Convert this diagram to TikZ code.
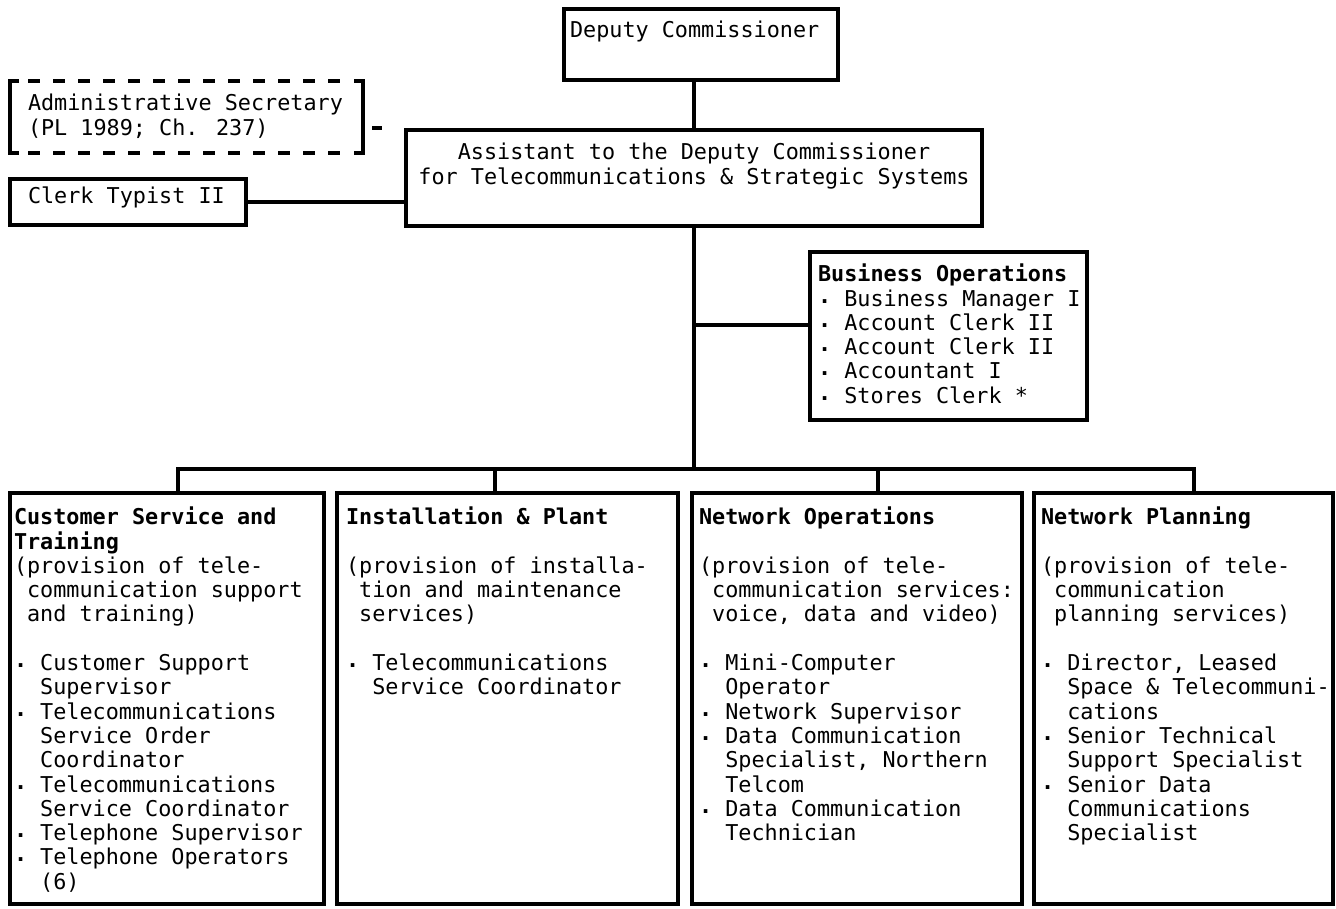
\documentclass[tikz,border=0pt]{standalone}
\usepackage{fontspec}
\setmainfont{DejaVu Sans Mono}
% strut fixing the top of each text block 17pt above its first baseline
\newcommand\st{\rule{0pt}{17pt}}
% one blank character cell
\newcommand\pd{\phantom{0}}
% list bullet followed by one blank cell
\newcommand\bu{\raisebox{3pt}{\textbf{.}}\pd}
\begin{document}
\begin{tikzpicture}[x=1pt,y=-1pt,
  box/.style={draw, line width=3.6pt, outer sep=0pt, inner sep=0pt, anchor=north west},
  wire/.style={line width=3.6pt},
  txt/.style={anchor=north west, inner sep=0pt, outer sep=0pt, align=left,
    font=\fontsize{21.8pt}{24.3pt}\selectfont},
  ctxt/.style={txt, anchor=north, align=center}]
\fill[white] (0,0) rectangle (1336,909);
\useasboundingbox (0,0) rectangle (1336,909);

% boxes
\node[box, minimum width=274pt, minimum height=71pt] (dep) at (564,9) {};
\node[box, minimum width=576pt, minimum height=96pt] (asst) at (406,130) {};
\node[box, draw=none, minimum width=353pt, minimum height=72pt] (admin) at (10,81) {};
\node[box, minimum width=236pt, minimum height=46pt] (clerk) at (10,179) {};
\node[box, minimum width=277pt, minimum height=168pt] (biz) at (810,252) {};
\node[box, minimum width=314pt, minimum height=411pt] (b1) at (10,493) {};
\node[box, minimum width=341pt, minimum height=411pt] (b2) at (337,493) {};
\node[box, minimum width=330pt, minimum height=411pt] (b3) at (692,493) {};
\node[box, minimum width=299pt, minimum height=411pt] (b4) at (1034,493) {};

% dashed outline of the administrative secretary position
\draw[wire] ([xshift=9pt]admin.north west) -- (admin.north west) -- (admin.south west) -- ([xshift=9pt]admin.south west);
\draw[wire] ([xshift=-9pt]admin.north east) -- (admin.north east) -- (admin.south east) -- ([xshift=-9pt]admin.south east);
\draw[wire, dash pattern=on 12pt off 13pt] ([xshift=18pt]admin.north west) -- ([xshift=-22pt]admin.north east);
\draw[wire, dash pattern=on 12pt off 13pt] ([xshift=18pt]admin.south west) -- ([xshift=-22pt]admin.south east);

% connectors
\coordinate (trunk) at (694,0);
\coordinate (busL) at (178,469);
\coordinate (busR) at (1194,469);
\coordinate (d2) at (495,469);
\coordinate (d3) at (878,469);
\coordinate (bizy) at (0,325);
\coordinate (stubA) at (372,128);
\coordinate (stubB) at (382,128);
\draw[wire] (dep.south -| trunk) -- (asst.north -| trunk);
\draw[wire] (asst.south -| trunk) -- (trunk |- busL);
\draw[wire] (trunk |- bizy) -- (biz.west |- bizy);
\draw[wire] (clerk.east) -- (clerk.east -| asst.west);
\draw[wire] (stubA) -- (stubB);
\draw[wire] (b1.north -| busL) -- (busL) -- (busR) -- (b4.north -| busR);
\draw[wire] (d2) -- (b2.north -| d2);
\draw[wire] (d3) -- (b3.north -| d3);

% texts
\node[txt] (depT) at (570,21) {\st Deputy Commissioner};
\node[ctxt] (asstT) at (694,143) {\st Assistant to the Deputy Commissioner\\for Telecommunications \& Strategic Systems};
\node[txt] (adminT) at (28,94) {\st Administrative Secretary\\(PL 1989; Ch. 237)};
\node[txt] (clerkT) at (28,187) {\st Clerk Typist II};
\node[txt] (bizT) at (818,264) {\st\textbf{Business Operations}\\
\bu Business Manager I\\
\bu Account Clerk II\\
\bu Account Clerk II\\
\bu Accountant I\\
\bu Stores Clerk *};

\node[txt] (b1T) at (14,507) {\st\textbf{Customer Service and}\\
\textbf{Training}\\
(provision of tele-\\
\pd communication support\\
\pd and training)\\[24.3pt]
\bu Customer Support\\
\pd\pd Supervisor\\
\bu Telecommunications\\
\pd\pd Service Order\\
\pd\pd Coordinator\\
\bu Telecommunications\\
\pd\pd Service Coordinator\\
\bu Telephone Supervisor\\
\bu Telephone Operators\\
\pd\pd (6)};

\node[txt] (b2T) at (346,507) {\st\textbf{Installation \& Plant}\\[24.3pt]
(provision of installa-\\
\pd tion and maintenance\\
\pd services)\\[24.3pt]
\bu Telecommunications\\
\pd\pd Service Coordinator};

\node[txt] (b3T) at (699,507) {\st\textbf{Network Operations}\\[24.3pt]
(provision of tele-\\
\pd communication services:\\
\pd voice, data and video)\\[24.3pt]
\bu Mini-Computer\\
\pd\pd Operator\\
\bu Network Supervisor\\
\bu Data Communication\\
\pd\pd Specialist, Northern\\
\pd\pd Telcom\\
\bu Data Communication\\
\pd\pd Technician};

\node[txt] (b4T) at (1041,507) {\st\textbf{Network Planning}\\[24.3pt]
(provision of tele-\\
\pd communication\\
\pd planning services)\\[24.3pt]
\bu Director, Leased\\
\pd\pd Space \& Telecommuni-\\
\pd\pd cations\\
\bu Senior Technical\\
\pd\pd Support Specialist\\
\bu Senior Data\\
\pd\pd Communications\\
\pd\pd Specialist};
\end{tikzpicture}
\end{document}
